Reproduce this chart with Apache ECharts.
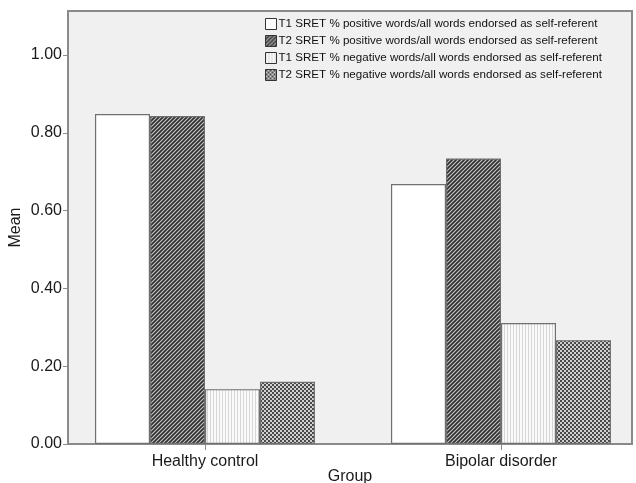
<!DOCTYPE html>
<html lang="en">
<head>
<meta charset="UTF-8">
<title>SRET by group</title>
<script src="https://cdn.jsdelivr.net/npm/echarts@6/dist/echarts.min.js"></script>
<style>
  body { margin: 0; background: #fff; }
  #main { width: 636px; height: 483px; }
</style>
</head>
<body>
<div id="main"></div>
<script>
// data
var groups = ['Healthy control', 'Bipolar disorder'];
var seriesNames = [
  'T1 SRET % positive words/all words endorsed as self-referent',
  'T2 SRET % positive words/all words endorsed as self-referent',
  'T1 SRET % negative words/all words endorsed as self-referent',
  'T2 SRET % negative words/all words endorsed as self-referent'
];
var t1Positive = [0.848, 0.668];
var t2Positive = [0.843, 0.734];
var t1Negative = [0.141, 0.311];
var t2Negative = [0.160, 0.267];
var yTicks = [0, 0.2, 0.4, 0.6, 0.8, 1.0];

// small canvas fills, like the SPSS hatching
function tile(size, draw) {
  var c = document.createElement('canvas');
  c.width = size; c.height = size;
  draw(c.getContext('2d'), size);
  return { image: c, repeat: 'repeat' };
}
var diagonal = tile(4, function (g, s) {
  g.fillStyle = '#c4c4c4'; g.fillRect(0, 0, s, s);
  g.strokeStyle = '#2e2e2e'; g.lineWidth = 1.6;
  g.beginPath();
  g.moveTo(-1, s + 1); g.lineTo(s + 1, -1);
  g.moveTo(-1, 1); g.lineTo(1, -1);
  g.moveTo(s - 1, s + 1); g.lineTo(s + 1, s - 1);
  g.stroke();
});
var vlines = tile(3, function (g, s) {
  g.fillStyle = '#fafafa'; g.fillRect(0, 0, s, s);
  g.fillStyle = '#d6d6d6'; g.fillRect(0, 0, 1, s);
});
var checks = tile(4, function (g, s) {
  g.fillStyle = '#d0d0d0'; g.fillRect(0, 0, s, s);
  g.fillStyle = '#4a4a4a'; g.fillRect(0, 0, 2, 2); g.fillRect(2, 2, 2, 2);
});
var fills = ['#ffffff', diagonal, vlines, checks];
var values = [t1Positive, t2Positive, t1Negative, t2Negative];

var myChart = echarts.init(document.getElementById('main'));

var series = [];
for (var i = 0; i < values.length; i++) {
  series.push({
    name: seriesNames[i],
    type: 'bar',
    barWidth: 55,
    barGap: '0%',
    data: values[i].map(function (v, k) { return [k, v]; }),
    itemStyle: { color: fills[i], borderColor: '#707070', borderWidth: 1.2 },
    emphasis: { disabled: true }
  });
}

var option = {
  animation: false,
  textStyle: { fontFamily: 'Liberation Sans' },
  grid: {
    left: 68, right: 4, top: 11, bottom: 39,
    outerBoundsMode: 'none',
    show: true, backgroundColor: '#f0f0f0', borderColor: '#8a8a8a', borderWidth: 2
  },
  legend: {
    orient: 'vertical',
    left: 260, top: 13,
    itemWidth: 11, itemHeight: 11, itemGap: 5,
    icon: 'rect',
    textStyle: { fontSize: 11.6, color: '#111', fontFamily: 'Liberation Sans', padding: [0, 0, 0, -3] },
    itemStyle: { borderColor: '#333', borderWidth: 1 },
    selectedMode: false
  },
  xAxis: {
    type: 'value',
    min: -0.4628, max: 1.4426,
    splitLine: { show: false },
    axisLine: { onZero: false, lineStyle: { color: '#8a8a8a', width: 2 } },
    axisTick: { customValues: [0, 1], length: 6, lineStyle: { color: '#8a8a8a' } },
    axisLabel: {
      customValues: [0, 1],
      formatter: function (v) { return groups[Math.round(v)]; },
      fontSize: 16, color: '#1a1a1a', margin: 10
    },
    name: 'Group', nameLocation: 'middle', nameGap: 25, nameMoveOverlap: false,
    nameTextStyle: { fontSize: 16, color: '#1a1a1a' }
  },
  yAxis: {
    type: 'value',
    min: 0, max: 1.113,
    splitLine: { show: false },
    axisLine: { show: true, onZero: false, lineStyle: { color: '#8a8a8a', width: 2 } },
    axisTick: { show: true, customValues: yTicks, length: 5, lineStyle: { color: '#8a8a8a' } },
    axisLabel: {
      customValues: yTicks,
      formatter: function (v) { return v.toFixed(2); },
      fontSize: 16, color: '#1a1a1a', margin: 6
    },
    name: 'Mean', nameLocation: 'middle', nameGap: 44, nameRotate: 90, nameMoveOverlap: false,
    nameTextStyle: { fontSize: 16, color: '#1a1a1a' }
  },
  series: series
};

myChart.setOption(option);
</script>
</body>
</html>
